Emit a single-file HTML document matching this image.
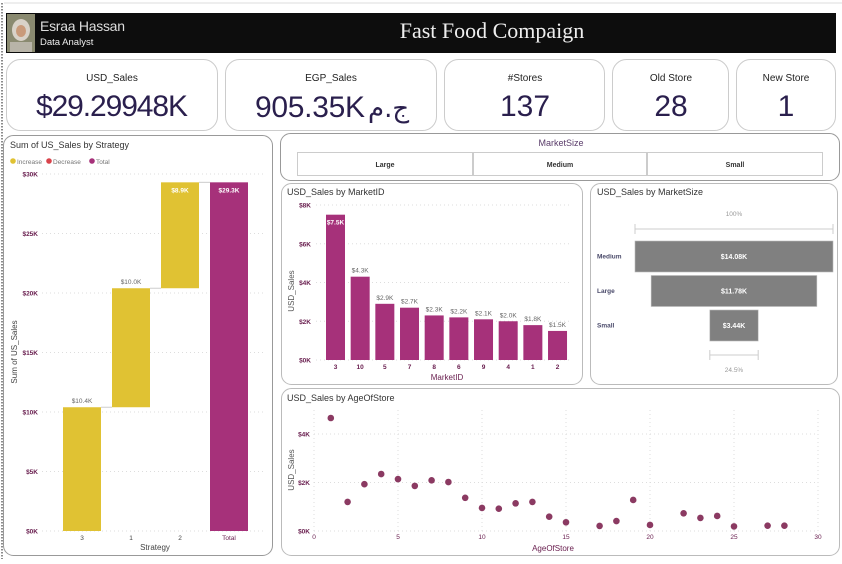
<!DOCTYPE html>
<html><head><meta charset="utf-8">
<style>
html,body{margin:0;padding:0;background:#fff;}
body{width:842px;height:559px;overflow:hidden;position:relative;font-family:"Liberation Sans",sans-serif;}
svg text{font-family:"Liberation Sans",sans-serif;}
</style></head>
<body>
<svg id="dash" width="842" height="559" viewBox="0 0 842 559" xmlns="http://www.w3.org/2000/svg">
  <line x1="2" y1="3" x2="2" y2="559" stroke="#666" stroke-width="1.5" stroke-dasharray="1.5,1.5"/>
  <line x1="4" y1="3" x2="842" y2="3" stroke="#ddd" stroke-width="1"/>
  <g>
    <rect x="6" y="13" width="830" height="40" fill="#0d0d0d"/>
    <g>
      <rect x="7" y="14" width="28" height="38" fill="#8a8a70"/>
      <ellipse cx="21" cy="30" rx="9" ry="11" fill="#d9d2c8"/>
      <ellipse cx="21" cy="31" rx="5" ry="6" fill="#c99a7a"/>
      <rect x="10" y="42" width="22" height="10" fill="#b8b4a8"/>
    </g>
    <text x="40" y="31" font-size="14" fill="#ddd" textLength="85">Esraa Hassan</text>
    <text x="40" y="45" font-size="9.5" fill="#eee">Data Analyst</text>
    <text x="492" y="38" font-size="22" fill="#eee" text-anchor="middle" style="font-family:'Liberation Serif',serif">Fast Food Compaign</text>
  </g>
  <g>
    <rect x="6.5" y="59.5" width="211" height="71" rx="14" fill="#fff" stroke="#ccc"/>
    <text x="112" y="81" font-size="10" fill="#222" text-anchor="middle">USD_Sales</text>
    <text x="112" y="116" font-size="30" fill="#2a1f4d" text-anchor="middle" textLength="152">$29.29948K</text>
  </g>
  <g>
    <rect x="225.5" y="59.5" width="211" height="71" rx="14" fill="#fff" stroke="#ccc"/>
    <text x="331" y="81" font-size="10" fill="#222" text-anchor="middle">EGP_Sales</text>
    <text x="255" y="117" font-size="30" fill="#2a1f4d" textLength="110" style="font-family:'Liberation Sans','DejaVu Sans',sans-serif">905.35K</text>
    <text x="368" y="117" font-size="26" fill="#2a1f4d" style="font-family:'DejaVu Sans',sans-serif">ج.م</text>
  </g>
  <g>
    <rect x="444.5" y="59.5" width="160" height="71" rx="14" fill="#fff" stroke="#ccc"/>
    <text x="525" y="81" font-size="10" fill="#222" text-anchor="middle">#Stores</text>
    <text x="525" y="116" font-size="30" fill="#2a1f4d" text-anchor="middle">137</text>
  </g>
  <g>
    <rect x="612.5" y="59.5" width="116" height="71" rx="14" fill="#fff" stroke="#ccc"/>
    <text x="671" y="81" font-size="10" fill="#222" text-anchor="middle">Old Store</text>
    <text x="671" y="116" font-size="30" fill="#2a1f4d" text-anchor="middle">28</text>
  </g>
  <g>
    <rect x="736.5" y="59.5" width="99" height="71" rx="14" fill="#fff" stroke="#ccc"/>
    <text x="786" y="81" font-size="10" fill="#222" text-anchor="middle">New Store</text>
    <text x="786" y="116" font-size="30" fill="#2a1f4d" text-anchor="middle">1</text>
  </g>
  <rect x="3.5" y="135.5" width="269" height="420" rx="10" fill="#fff" stroke="#999"/>
  <g>
    <rect x="280.5" y="133.5" width="559" height="47" rx="10" fill="#fff" stroke="#999"/>
    <text x="561" y="146" font-size="9" fill="#5a3c6a" text-anchor="middle">MarketSize</text>
    <g><rect x="297.5" y="152.5" width="175" height="23" fill="#fff" stroke="#ccc"/><text x="385" y="167" font-size="7" font-weight="bold" fill="#333" text-anchor="middle">Large</text></g>
    <g><rect x="473.5" y="152.5" width="173" height="23" fill="#fff" stroke="#ccc"/><text x="560" y="167" font-size="7" font-weight="bold" fill="#333" text-anchor="middle">Medium</text></g>
    <g><rect x="647.5" y="152.5" width="175" height="23" fill="#fff" stroke="#ccc"/><text x="735" y="167" font-size="7" font-weight="bold" fill="#333" text-anchor="middle">Small</text></g>
  </g>
  <rect x="281.5" y="183.5" width="301" height="201" rx="10" fill="#fff" stroke="#bbb"/>
  <rect x="590.5" y="183.5" width="247" height="201" rx="10" fill="#fff" stroke="#bbb"/>
  <rect x="281.5" y="388.5" width="558" height="167" rx="10" fill="#fff" stroke="#bbb"/>

  <g id="wf"></g>
  <g id="bar"></g>
  <g id="fun"></g>
  <g id="sc"></g>
</svg>
<script>
const wfCategories = ["3","1","2"];
const wfValues = [10.4, 10.0, 8.9];
const wfTotal = 29.3;
const wfTicks = [0,5,10,15,20,25,30];

const barCategories = ["3","10","5","7","8","6","9","4","1","2"];
const barValues = [7.5,4.3,2.9,2.7,2.3,2.2,2.1,2.0,1.8,1.5];
const barTicks = [0,2,4,6,8];

const funnelCategories = ["Medium","Large","Small"];
const funnelValues = [14.08,11.78,3.44];
const funnelPctLabels = ["100%","24.5%"];

const ageValues = [1,2,3,4,5,6,7,8,9,10,11,12,13,14,15,17,18,19,20,22,23,24,25,27,28];
const ageSales = [4.66,1.2,1.93,2.35,2.14,1.86,2.09,2.02,1.37,0.95,0.92,1.14,1.2,0.59,0.36,0.21,0.41,1.28,0.25,0.73,0.54,0.62,0.19,0.22,0.22];
const ageXTicks = [0,5,10,15,20,25,30];
const ageYTicks = [0,2,4];

const NS="http://www.w3.org/2000/svg";
function mk(parent,tag,attrs,txt){const e=document.createElementNS(NS,tag);for(const k in attrs)e.setAttribute(k,attrs[k]);if(txt!==undefined)e.textContent=txt;parent.appendChild(e);return e;}

(function(){
  const g=document.getElementById('wf');
  let t=mk(g,'text',{x:10,y:148,'font-size':9,fill:'#333'},'Sum of US_Sales by Strategy');
  
  
  const leg=[["Increase","#e0c233",10],["Decrease","#d9434b",46],["Total","#a6317a",89]];
  leg.forEach(l=>{
    const lg=mk(g,'g',{});
    
    
    mk(lg,'circle',{cx:l[2]+3,cy:161,r:2.8,fill:l[1]});
    mk(lg,'text',{x:l[2]+7,y:164,'font-size':6.5,fill:'#777'},l[0]);
  });
  const y0=531,y1=174,vmax=30;
  const ys=v=>y0-(v/vmax)*(y0-y1);
  const x0=82,step=49,bw=38;
  const xs=i=>x0+i*step;
  wfTicks.forEach(v=>{
    mk(g,'line',{x1:42,x2:266,y1:ys(v),y2:ys(v),stroke:'#ddd','stroke-dasharray':'1,3'});
    const tt=mk(g,'text',{x:38,y:ys(v)+2.5,'font-size':6.5,'font-weight':'bold',fill:'#6a2050','text-anchor':'end'},'$'+v+'K');
    
    
  });
  let cum=0;
  wfValues.forEach((v,i)=>{
    const top=ys(cum+v),bot=ys(cum);
    const r=mk(g,'rect',{x:xs(i)-bw/2,y:top,width:bw,height:bot-top,fill:'#e0c233'});
    
    
    mk(g,'line',{x1:xs(i)+bw/2,x2:xs(i+1)-bw/2,y1:top,y2:top,stroke:'#ccc','stroke-width':1});
    const inside=(i===wfValues.length-1);
    mk(g,'text',{x:xs(i),y:inside?top+10:top-4,'font-size':6.5,'font-weight':inside?'bold':'normal',fill:inside?'#fff':'#666','text-anchor':'middle'},'$'+v.toFixed(1)+'K');
    mk(g,'text',{x:xs(i),y:540,'font-size':6.5,fill:'#444','text-anchor':'middle'},wfCategories[i]);
    cum+=v;
  });
  const n=wfValues.length;
  const r=mk(g,'rect',{x:xs(n)-bw/2,y:ys(wfTotal),width:bw,height:y0-ys(wfTotal),fill:'#a6317a'});
  
  
  mk(g,'text',{x:xs(n),y:ys(wfTotal)+10,'font-size':6.5,'font-weight':'bold',fill:'#fff','text-anchor':'middle'},'$'+wfTotal.toFixed(1)+'K');
  mk(g,'text',{x:xs(n),y:540,'font-size':6.5,fill:'#6a2050','text-anchor':'middle'},'Total');
  t=mk(g,'text',{x:155,y:550,'font-size':8,fill:'#444','text-anchor':'middle'},'Strategy');
  
  
  t=mk(g,'text',{x:17,y:352,'font-size':8,fill:'#444','text-anchor':'middle',transform:'rotate(-90 17 352)'},'Sum of US_Sales');
  
  
})();

(function(){
  const g=document.getElementById('bar');
  let t=mk(g,'text',{x:287,y:195,'font-size':9,fill:'#333'},'USD_Sales by MarketID');
  
  
  const y0=360,y1=205,vmax=8;
  const ys=v=>y0-(v/vmax)*(y0-y1);
  const x0=335.5,step=24.67,bw=19;
  const xs=i=>x0+i*step;
  barTicks.forEach(v=>{
    mk(g,'line',{x1:316,x2:572,y1:ys(v),y2:ys(v),stroke:'#ddd','stroke-dasharray':'1,3'});
    const tt=mk(g,'text',{x:311,y:ys(v)+2.5,'font-size':6.5,'font-weight':'bold',fill:'#6a2050','text-anchor':'end'},'$'+v+'K');
    
    
  });
  barValues.forEach((v,i)=>{
    const r=mk(g,'rect',{x:xs(i)-bw/2,y:ys(v),width:bw,height:y0-ys(v),fill:'#a6317a'});
    
    
    const inside=(i===0);
    mk(g,'text',{x:xs(i),y:inside?ys(v)+10:ys(v)-4,'font-size':6.5,'font-weight':inside?'bold':'normal',fill:inside?'#fff':'#666','text-anchor':'middle'},'$'+v.toFixed(1)+'K');
    mk(g,'text',{x:xs(i),y:369,'font-size':6.5,'font-weight':'bold',fill:'#6a2050','text-anchor':'middle'},barCategories[i]);
  });
  t=mk(g,'text',{x:447,y:380,'font-size':8,fill:'#6a2050','text-anchor':'middle'},'MarketID');
  
  
  t=mk(g,'text',{x:294,y:291,'font-size':8,fill:'#555','text-anchor':'middle',transform:'rotate(-90 294 291)'},'USD_Sales');
  
  
})();

(function(){
  const g=document.getElementById('fun');
  let t=mk(g,'text',{x:597,y:195,'font-size':9,fill:'#333'},'USD_Sales by MarketSize');
  
  
  const cx=734,maxW=198,bh=31,top0=241,gap=3.5;
  const ws=v=>(v/funnelValues[0])*maxW;
  mk(g,'text',{x:cx,y:216,'font-size':6.5,fill:'#999','text-anchor':'middle'},funnelPctLabels[0]);
  mk(g,'path',{d:`M${cx-maxW/2},224V234M${cx-maxW/2},229H${cx+maxW/2}M${cx+maxW/2},224V234`,stroke:'#ccc',fill:'none'});
  funnelValues.forEach((v,i)=>{
    const w=ws(v),y=top0+i*(bh+gap);
    const r=mk(g,'rect',{x:cx-w/2,y:y,width:w,height:bh,fill:'#808080',stroke:'#bbb','stroke-width':0.6});
    
    
    mk(g,'text',{x:cx,y:y+bh/2+2.5,'font-size':7,'font-weight':'bold',fill:'#fff','text-anchor':'middle'},'$'+v.toFixed(2)+'K');
    mk(g,'text',{x:597,y:y+bh/2+2,'font-size':6.5,'font-weight':'bold',fill:'#4a4a6a'},funnelCategories[i]);
  });
  const last=funnelValues[funnelValues.length-1],lw=ws(last);
  mk(g,'path',{d:`M${cx-lw/2},350V360M${cx-lw/2},355H${cx+lw/2}M${cx+lw/2},350V360`,stroke:'#ccc',fill:'none'});
  mk(g,'text',{x:cx,y:372,'font-size':6.5,fill:'#999','text-anchor':'middle'},funnelPctLabels[1]);
})();

(function(){
  const g=document.getElementById('sc');
  let t=mk(g,'text',{x:287,y:401,'font-size':9,fill:'#333'},'USD_Sales by AgeOfStore');
  
  
  const px0=314,px1=818,xmax=30,y0=531,perK=24.25;
  const xs=v=>px0+(v/xmax)*(px1-px0);
  const ys=v=>y0-v*perK;
  ageXTicks.forEach(v=>{
    mk(g,'line',{x1:xs(v),x2:xs(v),y1:410,y2:y0,stroke:'#ddd','stroke-dasharray':'1,3'});
    const tt=mk(g,'text',{x:xs(v),y:539,'font-size':6.5,fill:'#6a2050','text-anchor':'middle'},String(v));
    
    
  });
  ageYTicks.forEach(v=>{
    mk(g,'line',{x1:px0,x2:px1,y1:ys(v),y2:ys(v),stroke:'#ddd','stroke-dasharray':'1,3'});
    const tt=mk(g,'text',{x:310,y:ys(v)+2.5,'font-size':6.5,'font-weight':'bold',fill:'#6a2050','text-anchor':'end'},'$'+v+'K');
    
    
  });
  ageValues.forEach((a,i)=>{
    const c=mk(g,'circle',{cx:xs(a),cy:ys(ageSales[i]),r:3.3,fill:'#8b3a62'});
    
    
  });
  t=mk(g,'text',{x:553,y:551,'font-size':8,fill:'#6a2050','text-anchor':'middle'},'AgeOfStore');
  
  
  t=mk(g,'text',{x:294,y:470,'font-size':8,fill:'#555','text-anchor':'middle',transform:'rotate(-90 294 470)'},'USD_Sales');
  
  
})();
</script>
</body></html>
